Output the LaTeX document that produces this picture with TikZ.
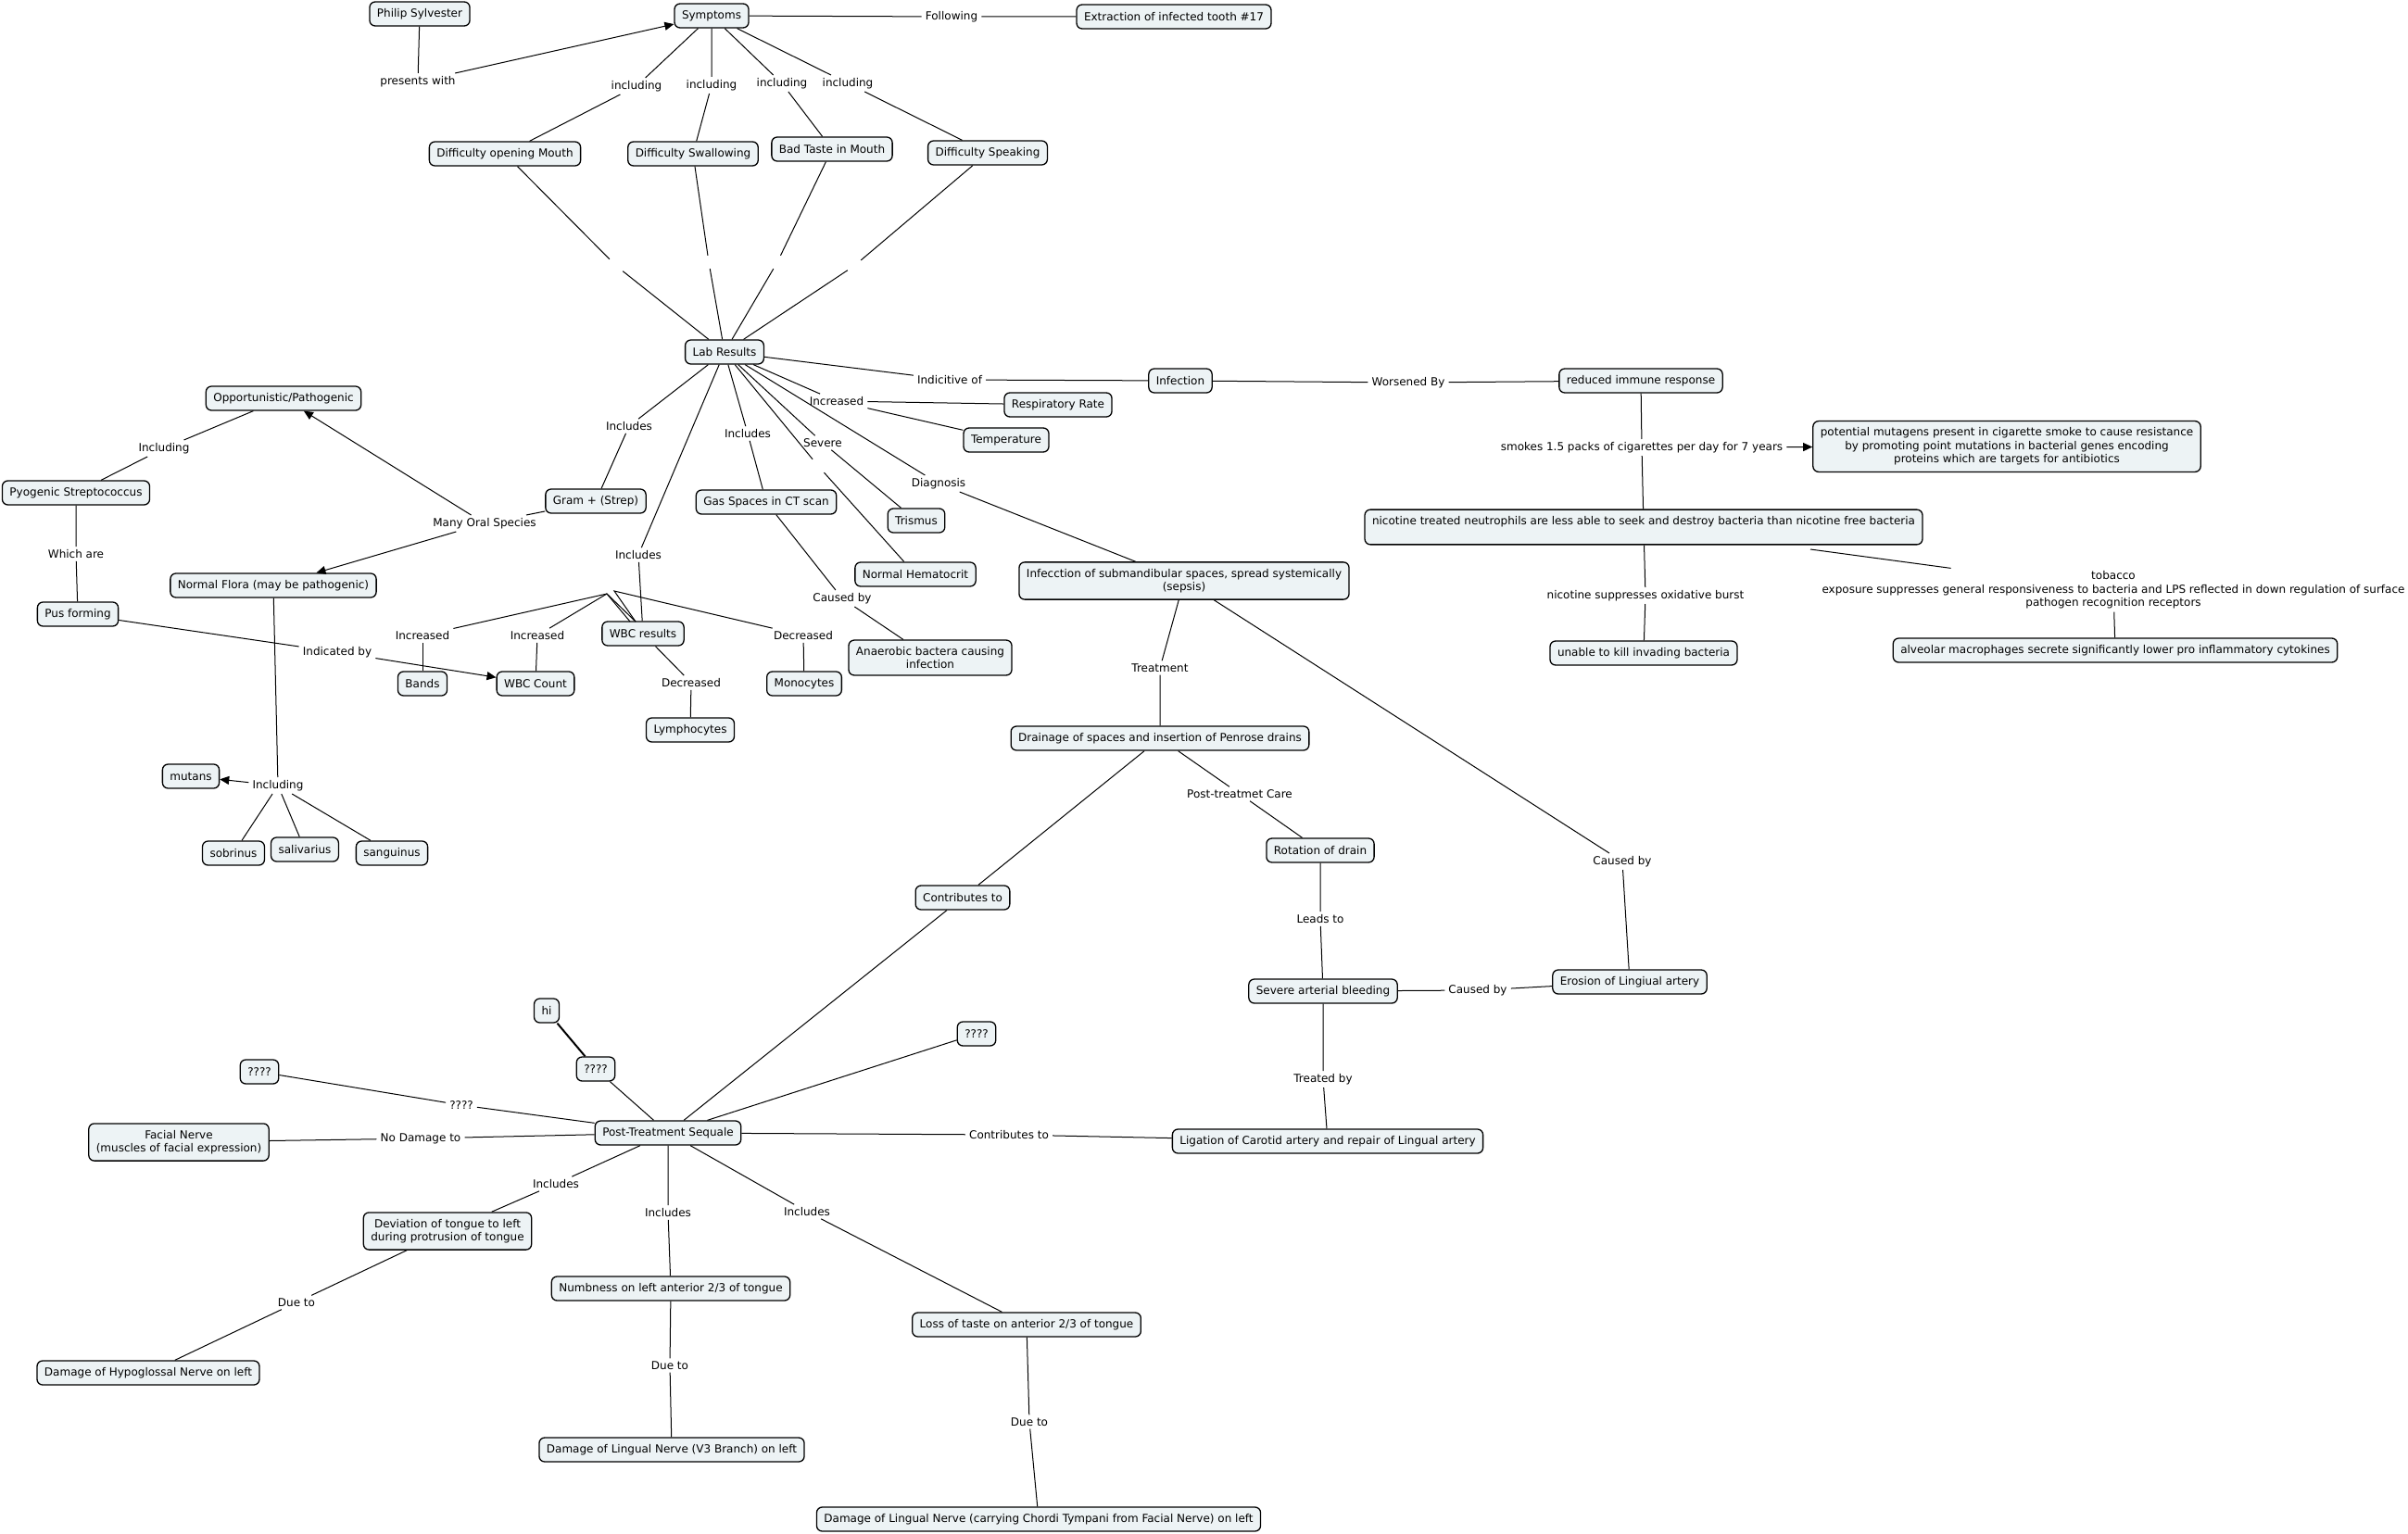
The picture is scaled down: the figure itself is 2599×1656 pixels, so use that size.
\documentclass[tikz,border=0pt]{standalone}
\usepackage{fontspec}
\setmainfont{DejaVu Sans}
\usetikzlibrary{arrows.meta}
\definecolor{conceptfill}{RGB}{237,243,245}
\newcommand{\mapfont}{\fontsize{12}{14.6}\selectfont}
\tikzset{
  % Concept map
  concept/.style   = { draw, line width=1.3pt, rounded corners=6pt, fill=conceptfill,
                        align=center, font=\mapfont, inner xsep=8pt, inner ysep=7pt,
                        minimum height=26pt },
  linkword/.style  = { fill=white, align=center, font=\mapfont, inner xsep=4pt, inner ysep=3pt },
  blanklink/.style = { inner sep=0pt, minimum size=14pt },
  maplink/.style   = { line width=1pt },
  maparrow/.style  = { line width=1pt, -{Triangle[length=10pt, width=9pt]} }
}

\begin{document}
\begin{tikzpicture}[x=1pt, y=-1pt]
  \useasboundingbox (0,0) rectangle (2599,1656);

  % concepts
  \node[concept] (philip) at (453,15) {Philip Sylvester};
  \node[concept] (symptoms) at (768,17) {Symptoms};
  \node[concept] (extraction) at (1267,18) {Extraction of infected tooth \#17};
  \node[concept] (openmouth) at (545,166) {Difficulty opening Mouth};
  \node[concept] (swallow) at (748,166) {Difficulty Swallowing};
  \node[concept] (badtaste) at (898,161) {Bad Taste in Mouth};
  \node[concept] (speaking) at (1066,165) {Difficulty Speaking};
  \node[concept] (lab) at (782,380) {Lab Results};
  \node[concept] (infection) at (1274,411) {Infection};
  \node[concept] (immune) at (1771,411) {reduced immune response};
  \node[concept] (mutagens) at (2166,482) {potential mutagens present in cigarette smoke to cause resistance\\by promoting point mutations in bacterial genes encoding\\proteins which are targets for antibiotics};
  \node[concept] (neutrophils) at (1774,569) {nicotine treated neutrophils are less able to seek and destroy bacteria than nicotine free bacteria\\\mbox{}};
  \node[concept] (unable) at (1774,705) {unable to kill invading bacteria};
  \node[concept] (macrophages) at (2283,702) {alveolar macrophages secrete significantly lower pro inflammatory cytokines};
  \node[concept] (resprate) at (1142,437) {Respiratory Rate};
  \node[concept] (temp) at (1086,475) {Temperature};
  \node[concept] (trismus) at (989,562) {Trismus};
  \node[concept] (hematocrit) at (988,620) {Normal Hematocrit};
  \node[concept] (gas) at (827,542) {Gas Spaces in CT scan};
  \node[concept] (anaerobic) at (1004,710) {Anaerobic bactera causing\\infection};
  \node[concept] (sepsis) at (1278,627) {Infecction of submandibular spaces, spread systemically\\(sepsis)};
  \node[concept] (gram) at (643,541) {Gram + (Strep)};
  \node[concept] (wbc) at (694,684) {WBC results};
  \node[concept] (opportun) at (306,430) {Opportunistic/Pathogenic};
  \node[concept] (pyogenic) at (82,532) {Pyogenic Streptococcus};
  \node[concept] (pus) at (84,663) {Pus forming};
  \node[concept] (wbccount) at (578,738) {WBC Count};
  \node[concept] (bands) at (456,738) {Bands};
  \node[concept] (monocytes) at (868,738) {Monocytes};
  \node[concept] (lympho) at (745,788) {Lymphocytes};
  \node[concept] (flora) at (295,632) {Normal Flora (may be pathogenic)};
  \node[concept] (mutans) at (206,838) {mutans};
  \node[concept] (sobrinus) at (252,921) {sobrinus};
  \node[concept] (salivarius) at (329,917) {salivarius};
  \node[concept] (sanguinus) at (423,921) {sanguinus};
  \node[concept] (drainage) at (1252,797) {Drainage of spaces and insertion of Penrose drains};
  \node[concept] (rotation) at (1425,918) {Rotation of drain};
  \node[concept] (bleeding) at (1428,1070) {Severe arterial bleeding};
  \node[concept] (erosion) at (1759,1060) {Erosion of Lingiual artery};
  \node[concept] (ligation) at (1433,1232) {Ligation of Carotid artery and repair of Lingual artery};
  \node[concept] (contrib) at (1039,969) {Contributes to};
  \node[concept] (sequale) at (721,1223) {Post-Treatment Sequale};
  \node[concept] (hi) at (590,1091) {hi};
  \node[concept] (qmid) at (643,1154) {????};
  \node[concept] (qleft) at (280,1157) {????};
  \node[concept] (qright) at (1054,1116) {????};
  \node[concept] (facial) at (193,1233) {Facial Nerve\\(muscles of facial expression)};
  \node[concept] (deviation) at (483,1329) {Deviation of tongue to left\\during protrusion of tongue};
  \node[concept] (hypoglossal) at (160,1482) {Damage of Hypoglossal Nerve on left};
  \node[concept] (numbness) at (724,1391) {Numbness on left anterior 2/3 of tongue};
  \node[concept] (lingualv3) at (725,1565) {Damage of Lingual Nerve (V3 Branch) on left};
  \node[concept] (tasteloss) at (1108,1430) {Loss of taste on anterior 2/3 of tongue};
  \node[concept] (chorda) at (1121,1640) {Damage of Lingual Nerve (carrying Chordi Tympani from Facial Nerve) on left};

  % linking phrases
  \node[linkword] (presents) at (451,88) {presents with};
  \node[linkword] (following) at (1027,18) {Following};
  \node[linkword] (incl1) at (687,93) {including};
  \node[linkword] (incl2) at (768,92) {including};
  \node[linkword] (incl3) at (844,90) {including};
  \node[linkword] (incl4) at (915,90) {including};
  \node[blanklink] (gap1) at (665,287) {};
  \node[blanklink] (gap2) at (765,283) {};
  \node[blanklink] (gap3) at (839,283) {};
  \node[blanklink] (gap4) at (922,287) {};
  \node[linkword] (indicitive) at (1025,410) {Indicitive of};
  \node[linkword] (worsened) at (1520,413) {Worsened By};
  \node[linkword] (smokes) at (1772,483) {smokes 1.5 packs of cigarettes per day for 7 years};
  \node[linkword] (oxburst) at (1776,643) {nicotine suppresses oxidative burst};
  \node[linkword] (tobacco) at (2281,637) {tobacco\\exposure suppresses general responsiveness to bacteria and LPS reflected in down regulation of surface\\pathogen recognition receptors};
  \node[linkword] (increased) at (903,433) {Increased};
  \node[linkword] (severe) at (888,478) {Severe};
  \node[blanklink] (gap5) at (883,503) {};
  \node[linkword] (inclgas) at (807,468) {Includes};
  \node[linkword] (causedgas) at (909,646) {Caused by};
  \node[linkword] (diagnosis) at (1013,522) {Diagnosis};
  \node[linkword] (inclgram) at (679,460) {Includes};
  \node[linkword] (inclwbc) at (689,599) {Includes};
  \node[linkword] (oralspecies) at (523,565) {Many Oral Species};
  \node[linkword] (inclpyo) at (177,484) {Including};
  \node[linkword] (whichare) at (82,598) {Which are};
  \node[linkword] (indicated) at (364,704) {Indicated by};
  \node[linkword] (incbands) at (456,686) {Increased};
  \node[linkword] (inccount) at (580,686) {Increased};
  \node[linkword] (decmono) at (867,686) {Decreased};
  \node[linkword] (declympho) at (746,737) {Decreased};
  \node[linkword] (inclflora) at (300,848) {Including};
  \node[linkword] (treatment) at (1252,721) {Treatment};
  \node[linkword] (postcare) at (1338,857) {Post-treatmet Care};
  \node[linkword] (leads) at (1425,992) {Leads to};
  \node[linkword] (causedbleed) at (1595,1069) {Caused by};
  \node[linkword] (causederos) at (1751,930) {Caused by};
  \node[linkword] (treated) at (1428,1165) {Treated by};
  \node[linkword] (contributes) at (1089,1225) {Contributes to};
  \node[linkword] (nodamage) at (454,1229) {No Damage to};
  \node[linkword] (qword) at (498,1193) {????};
  \node[linkword] (incldev) at (600,1278) {Includes};
  \node[linkword] (inclnumb) at (721,1309) {Includes};
  \node[linkword] (incltaste) at (871,1308) {Includes};
  \node[linkword] (duehypo) at (320,1406) {Due to};
  \node[linkword] (duev3) at (723,1474) {Due to};
  \node[linkword] (duechorda) at (1111,1535) {Due to};

  % bends of the WBC links
  \coordinate (wbcknot) at (655,641);
  \coordinate (wbcknotb) at (663,638);
  \coordinate (wbcfoot) at (680,671);
  \coordinate (wbcfootb) at (686,671);
  \coordinate (tobstart) at (1954,593);

  % connections
  \draw[maplink] (philip) -- (presents);
  \draw[maparrow] (presents) -- (symptoms);
  \draw[maplink] (symptoms) -- (following) -- (extraction);
  \draw[maplink] (symptoms) -- (incl1) -- (openmouth);
  \draw[maplink] (symptoms) -- (incl2) -- (swallow);
  \draw[maplink] (symptoms) -- (incl3) -- (badtaste);
  \draw[maplink] (symptoms) -- (incl4) -- (speaking);
  \draw[maplink] (openmouth) -- (gap1) -- (lab);
  \draw[maplink] (swallow) -- (gap2) -- (lab);
  \draw[maplink] (badtaste) -- (gap3) -- (lab);
  \draw[maplink] (speaking) -- (gap4) -- (lab);
  \draw[maplink] (lab) -- (indicitive) -- (infection);
  \draw[maplink] (infection) -- (worsened) -- (immune);
  \draw[maplink] (immune) -- (smokes) -- (neutrophils);
  \draw[maparrow] (smokes) -- (mutagens);
  \draw[maplink] (neutrophils) -- (oxburst) -- (unable);
  \draw[maplink] (tobstart) -- (tobacco);
  \draw[maplink] (tobacco) -- (macrophages);
  \draw[maplink] (lab) -- (increased) -- (resprate);
  \draw[maplink] (increased) -- (temp);
  \draw[maplink] (lab) -- (severe) -- (trismus);
  \draw[maplink] (lab) -- (gap5) -- (hematocrit);
  \draw[maplink] (lab) -- (inclgas) -- (gas);
  \draw[maplink] (gas) -- (causedgas) -- (anaerobic);
  \draw[maplink] (lab) -- (diagnosis) -- (sepsis);
  \draw[maplink] (lab) -- (inclgram) -- (gram);
  \draw[maplink] (lab) -- (inclwbc) -- (wbc);
  \draw[maplink] (gram) -- (oralspecies);
  \draw[maparrow] (oralspecies) -- (opportun);
  \draw[maparrow] (oralspecies) -- (flora);
  \draw[maplink] (opportun) -- (inclpyo) -- (pyogenic);
  \draw[maplink] (pyogenic) -- (whichare) -- (pus);
  \draw[maplink] (pus) -- (indicated);
  \draw[maparrow] (indicated) -- (wbccount);
  \draw[maplink] (wbcfoot) -- (wbcknot) -- (incbands);
  \draw[maplink] (incbands) -- (bands);
  \draw[maplink] (wbcfootb) -- (wbcknot) -- (inccount);
  \draw[maplink] (inccount) -- (wbccount);
  \draw[maplink] (wbcfootb) -- (wbcknotb) -- (decmono);
  \draw[maplink] (decmono) -- (monocytes);
  \draw[maplink] (wbc) -- (declympho) -- (lympho);
  \draw[maplink] (flora) -- (inclflora);
  \draw[maparrow] (inclflora) -- (mutans);
  \draw[maplink] (inclflora) -- (sobrinus);
  \draw[maplink] (inclflora) -- (salivarius);
  \draw[maplink] (inclflora) -- (sanguinus);
  \draw[maplink] (sepsis) -- (treatment) -- (drainage);
  \draw[maplink] (sepsis) -- (causederos) -- (erosion);
  \draw[maplink] (drainage) -- (postcare) -- (rotation);
  \draw[maplink] (rotation) -- (leads) -- (bleeding);
  \draw[maplink] (bleeding) -- (causedbleed) -- (erosion);
  \draw[maplink] (bleeding) -- (treated) -- (ligation);
  \draw[maplink] (drainage) -- (contrib) -- (sequale);
  \draw[maplink] (sequale) -- (contributes) -- (ligation);
  \draw[maplink] (sequale) -- (nodamage) -- (facial);
  \draw[maplink] (sequale) -- (qword) -- (qleft);
  \draw[maplink] (sequale) -- (qmid);
  \draw[line width=2pt] (qmid) -- (hi);
  \draw[maplink] (sequale) -- (qright);
  \draw[maplink] (sequale) -- (incldev) -- (deviation);
  \draw[maplink] (sequale) -- (inclnumb) -- (numbness);
  \draw[maplink] (sequale) -- (incltaste) -- (tasteloss);
  \draw[maplink] (deviation) -- (duehypo) -- (hypoglossal);
  \draw[maplink] (numbness) -- (duev3) -- (lingualv3);
  \draw[maplink] (tasteloss) -- (duechorda) -- (chorda);

\end{tikzpicture}
\end{document}
